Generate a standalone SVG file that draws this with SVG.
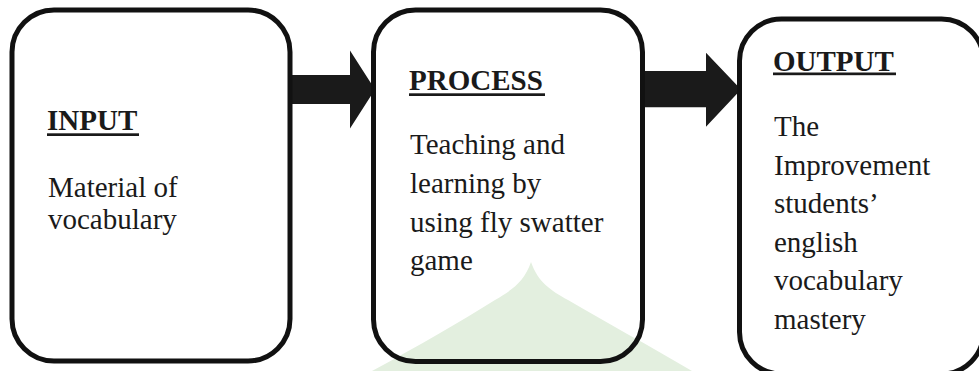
<svg xmlns="http://www.w3.org/2000/svg" width="979" height="371" viewBox="0 0 979 371">
  <style>
    .box { fill: none; stroke: #111; stroke-width: 5; }
    .arrow { fill: #1a1a1a; stroke: none; }
    .head { font-family: "Liberation Serif", "Times New Roman", serif; font-size: 29px; font-weight: bold; fill: #1a1a1a; }
    .body { font-family: "Liberation Serif", "Times New Roman", serif; font-size: 29px; fill: #1a1a1a; }
    .ul { fill: #1a1a1a; }
    .wm { fill: #e3efdf; }
  </style>
  <rect x="0" y="0" width="979" height="371" fill="#fff"/>
  <path class="wm" d="M531,262 C524,282 512,290 495,300 C460,322 420,345 372,371 L692,371 C650,346 605,322 568,300 C550,290 538,282 531,262 Z"/>
  <g id="connectors">
    <polygon class="arrow" points="290,75 350,75 350,50.5 375,89.5 350,128.5 350,104 290,104"/>
    <polygon class="arrow" points="642,71 706,71 706,52.7 741,89.5 706,126.7 706,107.3 642,107.3"/>
  </g>
  <g id="input">
    <rect class="box" x="12" y="10" width="278" height="351" rx="42" ry="42"/>
    <text class="head" x="47" y="130">INPUT</text>
    <rect class="ul" x="47" y="133.3" width="92" height="2.7"/>
    <text class="body" x="48" y="197">Material of</text>
    <text class="body" x="48" y="229">vocabulary</text>
  </g>
  <g id="process">
    <rect class="box" x="373.5" y="10" width="269" height="351.5" rx="42" ry="42"/>
    <text class="head" x="409" y="90">PROCESS</text>
    <rect class="ul" x="409" y="93.3" width="136" height="2.7"/>
    <text class="body" x="410" y="154">Teaching and</text>
    <text class="body" x="410" y="193">learning by</text>
    <text class="body" x="410" y="231.5">using fly swatter</text>
    <text class="body" x="410" y="270">game</text>
  </g>
  <g id="output">
    <rect class="box" x="739.5" y="19" width="244" height="355" rx="42" ry="42"/>
    <text class="head" x="773" y="71">OUTPUT</text>
    <rect class="ul" x="773" y="72.5" width="123" height="2.7"/>
    <text class="body" x="774" y="136">The</text>
    <text class="body" x="774" y="174.5">Improvement</text>
    <text class="body" x="774" y="213">students’</text>
    <text class="body" x="774" y="251.5">english</text>
    <text class="body" x="774" y="290">vocabulary</text>
    <text class="body" x="774" y="328.5">mastery</text>
  </g>
</svg>
